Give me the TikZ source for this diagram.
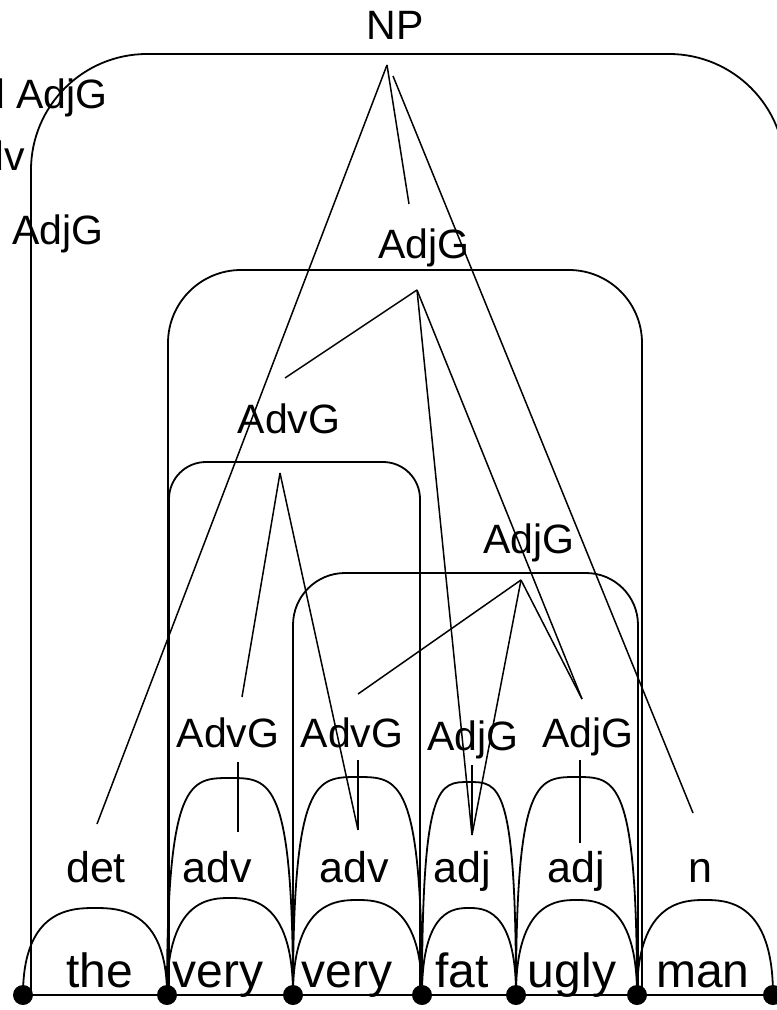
\documentclass[tikz,border=0pt]{standalone}
\usepackage{fontspec}
\setmainfont{Liberation Sans}
\begin{document}
\begin{tikzpicture}[x=1bp,y=-1bp,
  grplab/.style={font=\fontsize{41bp}{41bp}\selectfont, inner sep=0pt, anchor=base},
  postag/.style={font=\fontsize{43bp}{43bp}\selectfont, inner sep=0pt, anchor=base},
  wordlab/.style={font=\fontsize{48bp}{48bp}\selectfont, inner sep=0pt, anchor=base},
  dotnode/.style={circle, fill=black, inner sep=0pt, minimum size=20bp},
  tedge/.style={line width=1.5bp},
  boxline/.style={line width=1.8bp},
  archline/.style={line width=1.8bp}]
\useasboundingbox (0,0) rectangle (777,1010);
\clip (0,0) rectangle (777,1010);

% rounded boxes
\draw[boxline, rounded corners=116bp] (31,995) -- (31,54) -- (785,54) -- (785,995);
\draw[boxline, rounded corners=73bp] (168,995) -- (168,270) -- (642,270) -- (642,995);
\draw[boxline, rounded corners=37bp] (169,995) -- (169,462) -- (420,462) -- (420,995);
\draw[boxline, rounded corners=52bp] (293,995) -- (293,573) -- (638,573) -- (638,995);

% dots on the baseline
\node[dotnode] (d0) at (23,995) {};
\node[dotnode] (d1) at (167,995) {};
\node[dotnode] (d2) at (293,995) {};
\node[dotnode] (d3) at (422,995) {};
\node[dotnode] (d4) at (516,995) {};
\node[dotnode] (d5) at (637,995) {};
\node[dotnode] (d6) at (773,995) {};
\draw[archline] (d0.center) -- (d6.center);

% arch tops
\coordinate (w0) at (95,908);
\coordinate (w1) at (230,898);
\coordinate (w2) at (357.5,900);
\coordinate (w3) at (469,908);
\coordinate (w4) at (576.5,900);
\coordinate (w5) at (705,900);
\coordinate (p1) at (230,778);
\coordinate (p2) at (357.5,777);
\coordinate (p3) at (469,782);
\coordinate (p4) at (576.5,777);

% word arches
\draw[archline] (d0.center) .. controls +(0,-87) and +(-22,0) .. (w0) .. controls +(22,0) and +(0,-87) .. (d1.center);
\draw[archline] (d1.center) .. controls +(0,-97) and +(-19,0) .. (w1) .. controls +(19,0) and +(0,-97) .. (d2.center);
\draw[archline] (d2.center) .. controls +(0,-95) and +(-19,0) .. (w2) .. controls +(19,0) and +(0,-95) .. (d3.center);
\draw[archline] (d3.center) .. controls +(0,-87) and +(-14,0) .. (w3) .. controls +(14,0) and +(0,-87) .. (d4.center);
\draw[archline] (d4.center) .. controls +(0,-95) and +(-18,0) .. (w4) .. controls +(18,0) and +(0,-95) .. (d5.center);
\draw[archline] (d5.center) .. controls +(0,-95) and +(-20,0) .. (w5) .. controls +(20,0) and +(0,-95) .. (d6.center);

% pos arches
\draw[archline] (d1.center) .. controls +(0,-217) and +(-40,0) .. (p1) .. controls +(40,0) and +(0,-217) .. (d2.center);
\draw[archline] (d2.center) .. controls +(0,-218) and +(-41,0) .. (p2) .. controls +(41,0) and +(0,-218) .. (d3.center);
\draw[archline] (d3.center) .. controls +(0,-213) and +(-30,0) .. (p3) .. controls +(30,0) and +(0,-213) .. (d4.center);
\draw[archline] (d4.center) .. controls +(0,-218) and +(-39,0) .. (p4) .. controls +(39,0) and +(0,-218) .. (d5.center);

% words
\node[wordlab] (the) at (100,987) {the};
\node[wordlab] (very1) at (218,987) {very};
\node[wordlab] (very2) at (347,987) {very};
\node[wordlab] (fat) at (462,987) {fat};
\node[wordlab] (ugly) at (572,987) {ugly};
\node[wordlab] (man) at (703,987) {man};

% part of speech
\node[postag] (det) at (96,882) {det};
\node[postag] (adv1) at (217,882) {adv};
\node[postag] (adv2) at (354,882) {adv};
\node[postag] (adj1) at (462,882) {adj};
\node[postag] (adj2) at (576,882) {adj};
\node[postag] (n) at (700,882) {n};

% group labels
\node[grplab] (np) at (395,39) {NP};
\node[grplab] (aju) at (424,258) {AdjG};
\node[grplab] (avm) at (289,433) {AdvG};
\node[grplab] (ajl) at (529,553) {AdjG};
\node[grplab] (av1) at (228,747) {AdvG};
\node[grplab] (av2) at (352,747) {AdvG};
\node[grplab] (ajf) at (473,750) {AdjG};
\node[grplab] (aju2) at (588,747) {AdjG};

% clipped texts at the left edge
\node[grplab, anchor=base west] (leg1) at (-45.5,108) {Ad AdjG};
\node[grplab, anchor=base east] (leg2) at (25.5,170) {Adv};
\node[grplab, anchor=base west] (leg3) at (12,244) {AdjG};

% connector end points
\coordinate (npA) at (387,65);
\coordinate (npB) at (393,76);
\coordinate (detT) at (97,824);
\coordinate (ajuT) at (409,204);
\coordinate (nT) at (693,813);
\coordinate (ajuA) at (417,290);
\coordinate (avmT) at (285,378);
\coordinate (fatT) at (472,835);
\coordinate (ugGT) at (582,699);
\coordinate (ajlA) at (521,580);
\coordinate (av2T) at (358,694);
\coordinate (avmA) at (280,473);
\coordinate (av1T) at (242,697);
\coordinate (adv2T) at (358,830);
\coordinate (av1B) at (238,762);
\coordinate (adv1T) at (238,832);
\coordinate (av2B) at (358,760);
\coordinate (fatB) at (472,765);
\coordinate (ugB) at (580,760);
\coordinate (ugT) at (580,843);

% tree connectors
\draw[tedge] (npA) -- (detT);
\draw[tedge] (npA) -- (ajuT);
\draw[tedge] (npB) -- (nT);
\draw[tedge] (ajuA) -- (avmT);
\draw[tedge] (ajuA) -- (fatT);
\draw[tedge] (ajuA) -- (ugGT);
\draw[tedge] (ajlA) -- (av2T);
\draw[tedge] (ajlA) -- (fatT);
\draw[tedge] (ajlA) -- (ugGT);
\draw[tedge] (avmA) -- (av1T);
\draw[tedge] (avmA) -- (adv2T);
\draw[tedge] (av1B) -- (adv1T);
\draw[tedge] (av2B) -- (adv2T);
\draw[tedge] (fatB) -- (fatT);
\draw[tedge] (ugB) -- (ugT);
\end{tikzpicture}
\end{document}
